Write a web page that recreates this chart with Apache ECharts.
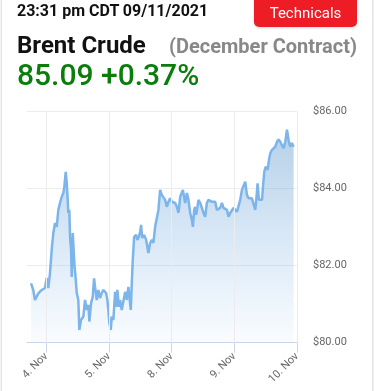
<!DOCTYPE html>
<html><head><meta charset="utf-8">
<script src="https://cdn.jsdelivr.net/npm/echarts@6/dist/echarts.min.js"></script>
<style>
html,body{margin:0;padding:0;background:#fff;width:374px;height:391px;overflow:hidden;font-family:Roboto,"Noto Sans",sans-serif;}
#card{position:absolute;left:1px;top:-10px;width:370px;height:420px;border:1px solid #e4e4e4;box-shadow:0 0 4px rgba(0,0,0,0.12);background:#fff;}
#chart{position:absolute;left:0;top:0;width:374px;height:391px;}
.t{position:absolute;white-space:nowrap;}
#time{left:17px;top:1px;font-size:16px;font-weight:700;color:#111;}
#btn{position:absolute;left:254px;top:-4px;width:103px;height:31px;background:#ee1c25;border-radius:5px;color:#fff;font-size:15px;text-align:center;line-height:35px;box-shadow:0 1px 3px rgba(0,0,0,0.15);}
#name{left:17px;top:31px;font-size:24px;font-weight:700;color:#111;}
#contract{left:169px;top:34px;font-size:20px;font-weight:700;color:#888;}
#price{left:17px;top:57px;font-size:30px;font-weight:500;color:#0a7d0a;}
</style></head>
<body>
<div id="card"></div>
<div id="chart"></div>
<div class="t" id="time">23:31 pm CDT 09/11/2021</div>
<div id="btn">Technicals</div>
<div class="t" id="name">Brent Crude</div>
<div class="t" id="contract">(December Contract)</div>
<div class="t" id="price">85.09 +0.37%</div>
<script>
// x: trading-day position (0 = 4. Nov, 1 = 5. Nov, 2 = 8. Nov, 3 = 9. Nov, 4 = 10. Nov)
const dayPos = [-0.244,-0.208,-0.181,-0.128,-0.073,-0.021,0.006,0.032,0.059,0.086,0.112,0.139,0.166,0.192,0.219,0.246,0.272,0.288,0.310,0.326,0.342,0.351,0.367,0.379,0.395,0.406,0.422,0.431,0.447,0.470,0.486,0.511,0.527,0.554,0.591,0.618,0.645,0.671,0.687,0.714,0.741,0.762,0.778,0.805,0.831,0.858,0.885,0.911,0.938,0.954,0.974,0.990,1.006,1.029,1.045,1.070,1.097,1.113,1.134,1.157,1.177,1.204,1.230,1.257,1.284,1.310,1.326,1.348,1.364,1.380,1.401,1.433,1.454,1.476,1.497,1.513,1.529,1.561,1.593,1.629,1.657,1.684,1.709,1.736,1.764,1.789,1.816,1.843,1.869,1.896,1.923,1.949,1.976,2.003,2.029,2.056,2.083,2.109,2.136,2.179,2.216,2.243,2.268,2.296,2.323,2.339,2.359,2.375,2.391,2.412,2.428,2.455,2.482,2.508,2.535,2.562,2.588,2.615,2.642,2.668,2.695,2.722,2.748,2.775,2.802,2.827,2.854,2.882,2.907,2.934,2.961,2.987,3.014,3.042,3.067,3.094,3.121,3.147,3.174,3.201,3.227,3.254,3.281,3.307,3.334,3.350,3.371,3.393,3.415,3.442,3.457,3.478,3.499,3.531,3.553,3.574,3.601,3.626,3.653,3.681,3.706,3.733,3.760,3.786,3.813,3.840,3.866,3.892,3.919,3.946];
const prices = [81.54,81.37,81.11,81.28,81.37,81.42,81.68,81.42,81.81,82.41,82.85,83.11,83.01,83.45,83.63,83.79,83.89,84.05,84.44,84.15,83.71,83.37,83.45,82.75,82.41,81.71,82.85,82.88,82.07,81.63,81.29,81.11,80.33,80.59,80.68,81.11,80.85,80.98,80.55,81.03,81.19,81.67,81.45,81.11,81.37,81.16,81.29,81.37,81.42,81.29,81.11,80.85,80.51,80.33,80.68,80.59,81.32,80.93,81.37,80.93,81.11,80.85,80.90,81.32,81.11,81.45,81.19,80.85,81.54,82.15,82.75,82.80,82.67,82.75,82.88,83.06,82.72,82.80,82.67,82.33,82.59,82.67,82.59,83.01,82.98,83.45,83.97,83.84,83.79,83.71,83.53,83.66,83.75,83.66,83.71,83.63,83.53,83.37,83.79,83.97,83.63,83.89,83.71,83.37,83.19,83.01,83.45,83.53,83.32,83.53,83.71,83.63,83.50,83.37,83.27,83.63,83.71,83.71,83.66,83.71,83.66,83.45,83.50,83.50,83.63,83.50,83.53,83.45,83.27,83.37,83.32,83.50,83.53,83.40,83.45,83.71,83.97,83.97,84.18,83.84,83.75,83.79,83.75,83.71,83.45,83.71,84.14,83.71,83.75,83.71,84.05,84.44,84.57,84.49,84.75,84.92,85.01,84.96,85.09,85.22,85.28,85.22,85.13,85.05,85.22,85.53,85.26,85.09,85.19,85.09];
const tickPos = [0,1,2,3,4];
const tickLabels = ['4. Nov','5. Nov','8. Nov','9. Nov','10. Nov'];

const chart = echarts.init(document.getElementById('chart'), null, {renderer:'canvas'});
chart.setOption({
  animation:false,
  backgroundColor:'transparent',
  grid:{left:27,right:77,top:111.7,bottom:48.3,containLabel:false},
  xAxis:{
    type:'value', min:-0.308, max:4,
    axisLine:{show:true,lineStyle:{color:'#ccd6eb',width:1}},
    axisTick:{show:true,customValues:tickPos,length:10,lineStyle:{color:'#ccd6eb'}},
    axisLabel:{customValues:tickPos,rotate:45,color:'#666',fontSize:11,fontFamily:'Roboto',margin:12,
      formatter:function(v){const i=tickPos.indexOf(Math.round(v));return i>=0?tickLabels[i]:'';}},
    splitLine:{show:false}
  },
  yAxis:{
    type:'value', position:'right', min:80, max:86, interval:2,
    axisLine:{show:false}, axisTick:{show:false},
    axisLabel:{color:'#666',fontSize:11,fontFamily:'Roboto',margin:16,formatter:function(v){return '$'+v.toFixed(2);}},
    splitLine:{show:true,lineStyle:{color:'#ececec',width:1}}
  },
  series:[
    {type:'line',data:dayPos.map((d,i)=>[d,prices[i]]),showSymbol:false,symbol:'none',
     lineStyle:{color:'#7cb5ec',width:2.5},
     areaStyle:{origin:'start',color:new echarts.graphic.LinearGradient(0,0,0,1,[{offset:0,color:'rgba(124,171,210,0.8)'},{offset:0.5,color:'rgba(124,176,225,0.42)'},{offset:1,color:'rgba(124,181,236,0.06)'}])},
     markLine:{silent:true,symbol:'none',label:{show:false},lineStyle:{color:'#ececec',type:'solid',width:1},data:tickPos.map(p=>({xAxis:p}))},
     z:3}
  ]
});
</script>
</body></html>
